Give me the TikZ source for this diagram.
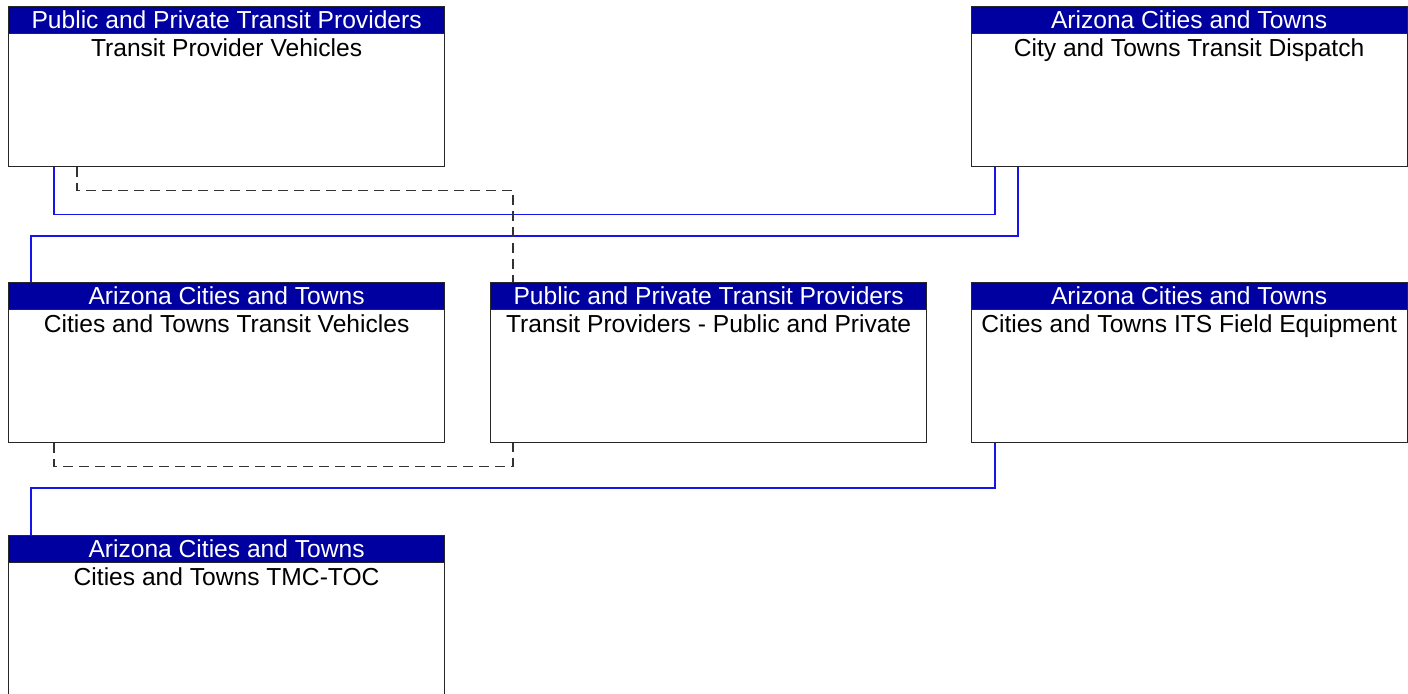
\documentclass[tikz,border=0pt]{standalone}
\usepackage{fontspec}
\setmainfont{Liberation Sans}
\usetikzlibrary{positioning}
\definecolor{hdrblue}{RGB}{0,0,160}
\definecolor{flowblue}{RGB}{20,20,235}
\tikzset{
  box/.style={draw=black!85, line width=0.6pt, fill=white, anchor=north west,
    minimum width=218pt, minimum height=80pt, inner sep=0pt},
  hdr/.style={draw=black!85, line width=0.6pt, fill=hdrblue, text=white, anchor=north west,
    minimum width=218pt, minimum height=13.5pt, inner sep=0pt, font=\fontsize{12.3}{13}\selectfont},
  ttl/.style={anchor=north, inner sep=0pt, font=\fontsize{12.3}{13}\selectfont, text=black},
  flow/.style={draw=flowblue, line width=0.6pt},
  dflow/.style={draw=black!80, line width=0.6pt, dash pattern=on 5pt off 3pt},
}
% one system box: name, position, owner, element
\newcommand{\sysbox}[4]{%
  \node[box] (#1) at (#2) {};
  \node[hdr] (#1-h) at (#2) {#3};
  \node[ttl, below=2pt of #1-h.south] (#1-t) {#4};
}
\begin{document}
\begin{tikzpicture}[x=0.5pt, y=-0.5pt]
  \useasboundingbox (0,0) rectangle (1408,694);
  \begin{scope}
    \clip (0,0) rectangle (1408,694);
    \sysbox{tpv}{8,6}{Public and Private Transit Providers}{Transit Provider Vehicles}
    \sysbox{ctd}{970.5,6}{Arizona Cities and Towns}{City and Towns Transit Dispatch}
    \sysbox{ctv}{8,282}{Arizona Cities and Towns}{Cities and Towns Transit Vehicles}
    \sysbox{tpp}{490,282}{Public and Private Transit Providers}{Transit Providers - Public and Private}
    \sysbox{cfe}{970.5,282}{Arizona Cities and Towns}{Cities and Towns ITS Field Equipment}
    \sysbox{tmc}{8,535}{Arizona Cities and Towns}{Cities and Towns TMC-TOC}

    % flows
    \draw[flow] ([xshift=23pt]tpv.south west) -- ++(0,47) -| ([xshift=12.25pt]ctd.south west);
    \draw[flow] ([xshift=11.5pt]ctv.north west) -- ++(0,-46) -| ([xshift=23.75pt]ctd.south west);
    \draw[flow] ([xshift=11.5pt]tmc.north west) -- ++(0,-47) -| ([xshift=12.25pt]cfe.south west);
    \draw[dflow] ([xshift=34.5pt]tpv.south west) -- ++(0,23) -| ([xshift=11.5pt]tpp.north west);
    \draw[dflow] ([xshift=23pt]ctv.south west) -- ++(0,23) -| ([xshift=11.5pt]tpp.south west);
  \end{scope}
\end{tikzpicture}
\end{document}
